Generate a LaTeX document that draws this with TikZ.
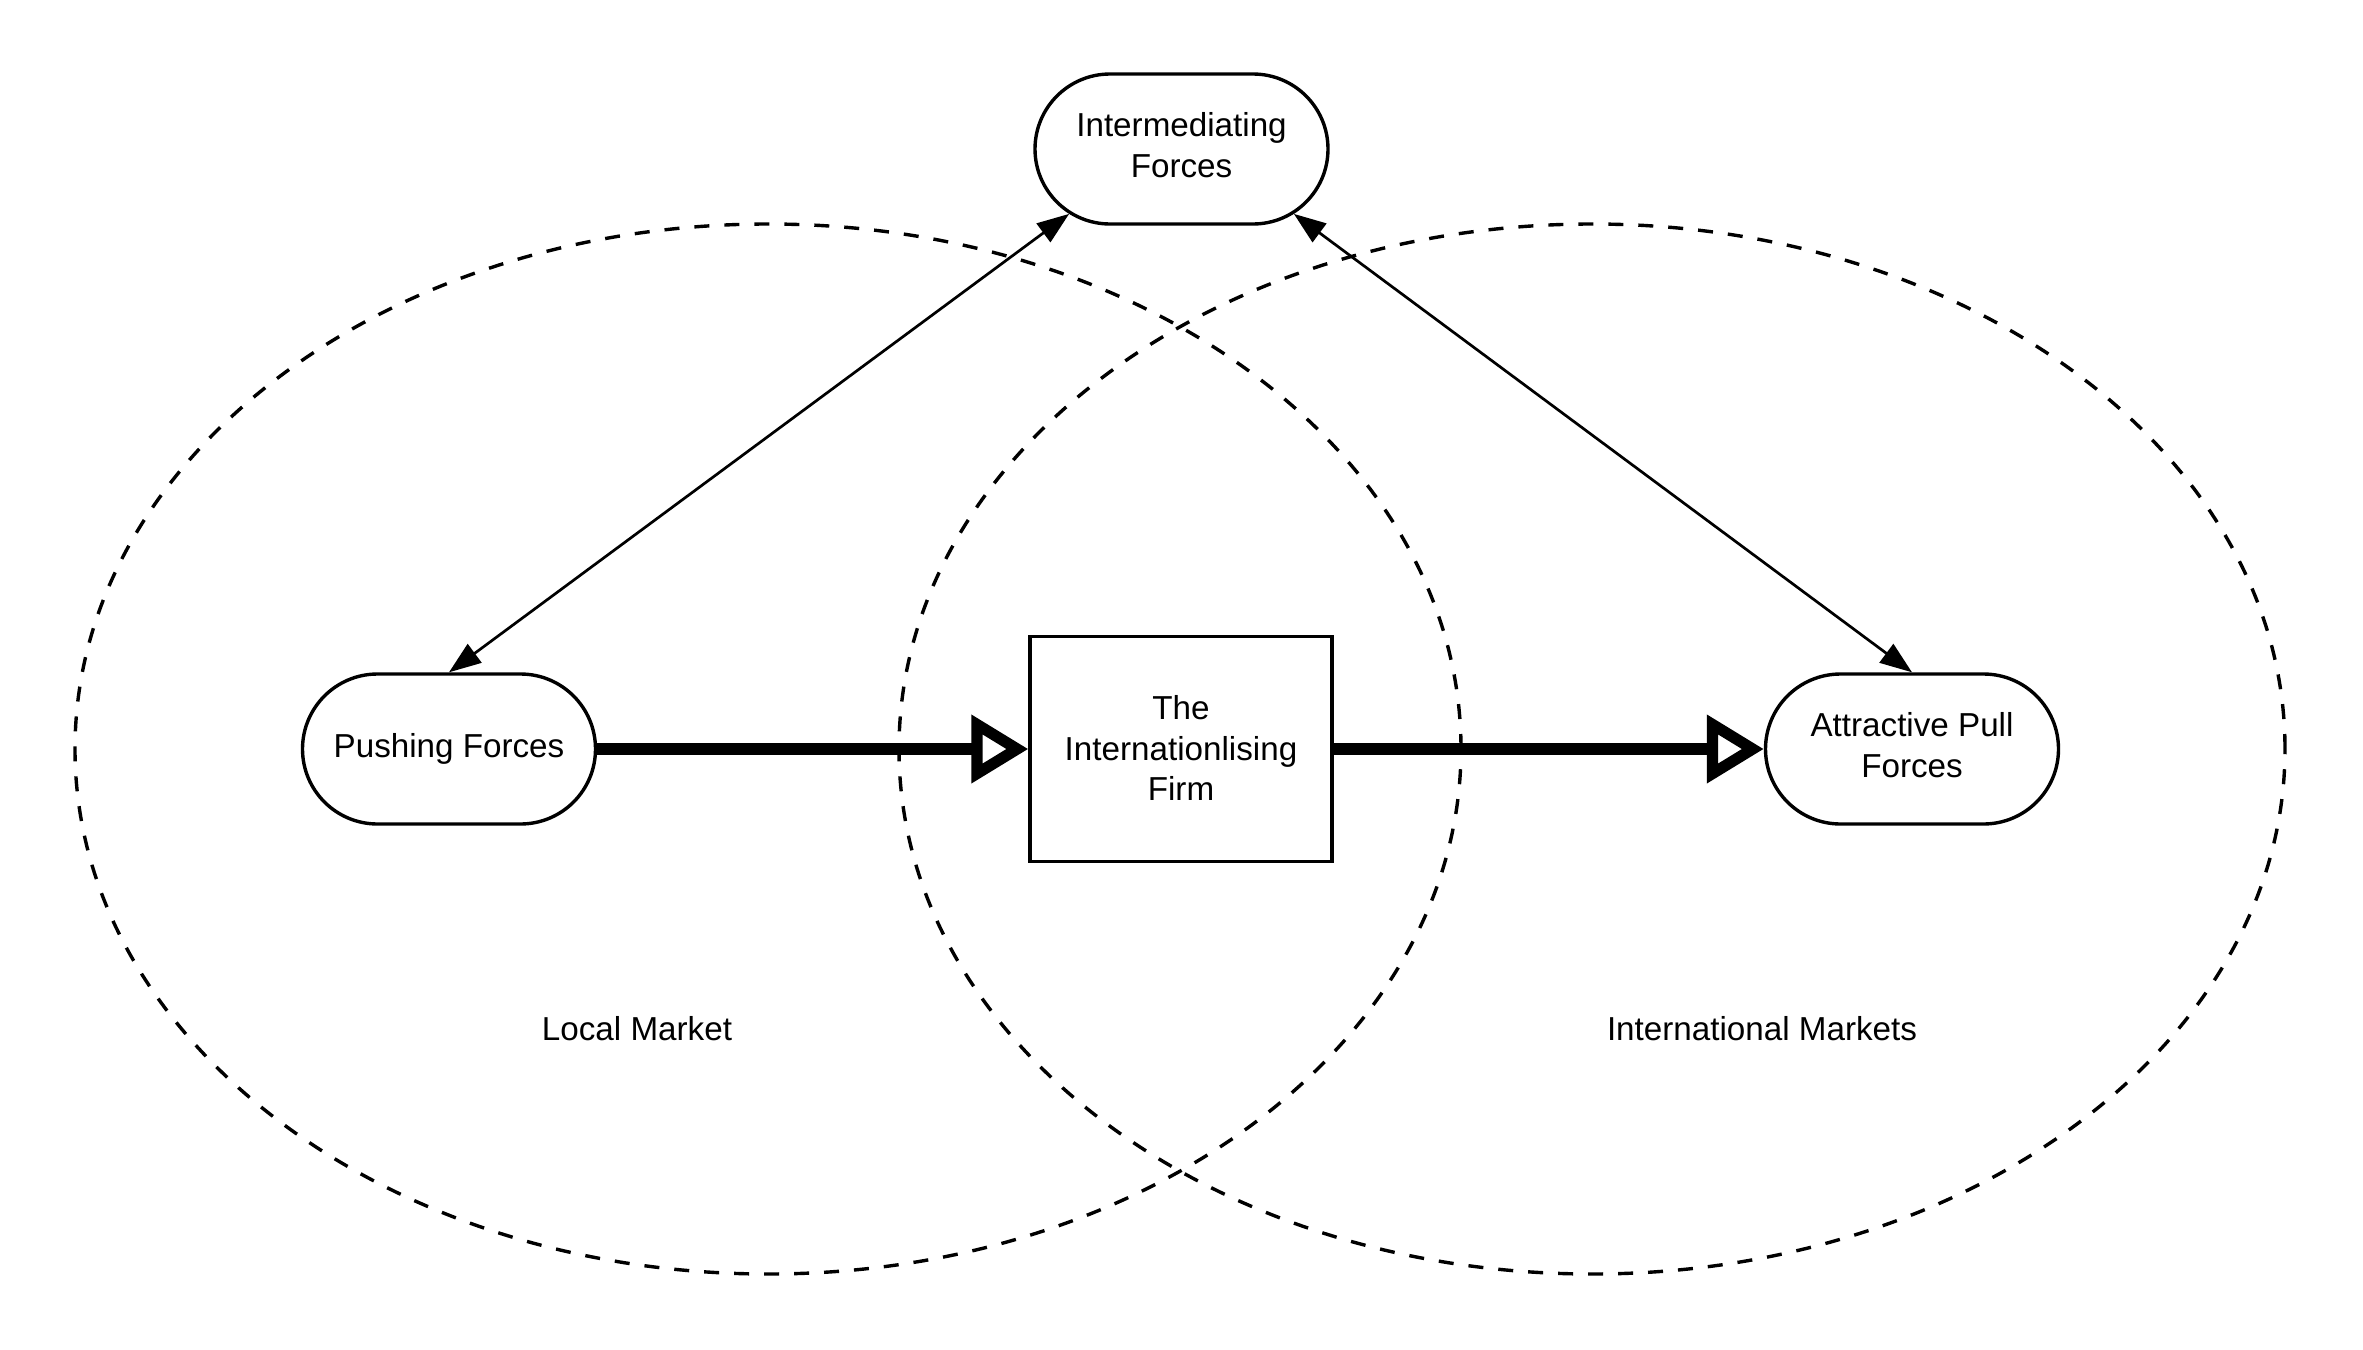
\documentclass[tikz,border=0pt]{standalone}
\usepackage{fontspec}
\setmainfont{Liberation Sans}
\usetikzlibrary{arrows.meta,shapes.misc}
\begin{document}
\begin{tikzpicture}[x=0.5pt,y=-0.5pt,
  font=\fontsize{16.6pt}{20.3pt}\selectfont,
  pill/.style={rounded rectangle, draw, line width=1.7pt, minimum width=150.5pt, minimum height=75pt, inner sep=2pt, align=center},
  firmbox/.style={rectangle, draw, line width=1.7pt, minimum width=151pt, minimum height=112.5pt, inner sep=2pt, align=center},
  market/.style={draw, line width=1.7pt, dash pattern=on 7.5pt off 7.5pt},
  thin/.style={line width=1.35pt, {Triangle[length=16pt,width=11.5pt]}-{Triangle[length=16pt,width=11.5pt]}},
  thick/.style={line width=5.6pt, -{Triangle[open,length=28.5pt,width=33pt]}},
  lbl/.style={inner sep=0pt}
]
\useasboundingbox (0,0) rectangle (2363,1350);
\path[market] (768,749) ellipse [x radius=346.5pt, y radius=262.5pt];
\path[market] (1592,749) ellipse [x radius=346.5pt, y radius=262.5pt];

\node[pill, text depth=4pt] (inter) at (1181.5,149) {Intermediating\\Forces};
\node[pill] (push) at (449,749) {Pushing Forces};
\node[firmbox, text depth=1pt] (firm) at (1181,749) {The\\Internationlising\\Firm};
\node[pill, text depth=4pt] (attr) at (1912,749) {Attractive Pull\\Forces};

\node[lbl] (local) at (637,1029) {Local Market};
\node[lbl] (intl) at (1762,1029) {International Markets};

\draw[thin] (inter.-150) -- (push.north);
\draw[thin] (inter.-30) -- (attr.north);
\draw[thick] (push.east) -- (firm.west);
\draw[thick] (firm.east) -- (attr.west);
\end{tikzpicture}
\end{document}
